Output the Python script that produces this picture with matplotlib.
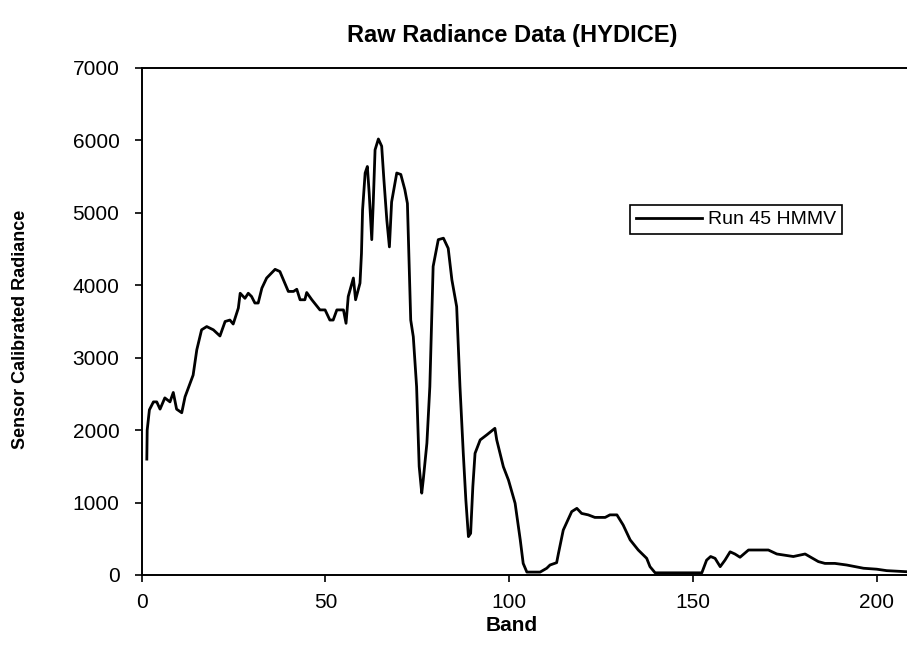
import matplotlib.pyplot as plt

plt.rcParams['font.family'] = ['Liberation Sans', 'DejaVu Sans']

# values
band = [1.4, 1.5, 2.1, 3.2, 4.1, 5.0, 6.3, 7.7, 8.6, 9.5, 10.9, 11.8, 14.0, 15.0,
        16.3, 17.7, 19.5, 21.3, 22.7, 24.0, 24.9, 26.3, 26.8, 28.1, 29.0, 29.9,
        30.8, 31.7, 32.7, 34.0, 36.3, 37.6, 39.9, 41.3, 42.2, 43.1, 44.4, 44.9,
        46.3, 48.5, 49.9, 51.2, 52.1, 53.1, 54.9, 55.6, 56.2, 57.6, 58.2, 59.4,
        59.8, 60.1, 60.8, 61.4, 61.9, 62.6, 63.0, 63.5, 64.4, 65.3, 65.9, 66.7,
        67.4, 68.0, 69.4, 70.5, 71.6, 72.3, 72.8, 73.2, 73.9, 74.8, 75.5, 76.2,
        76.6, 77.6, 78.4, 78.9, 79.3, 80.7, 82.1, 83.4, 84.4, 85.7, 86.6, 87.5,
        88.2, 88.9, 89.5, 90.1, 90.7, 92.1, 93.9, 96.1, 96.6, 98.4, 99.8, 101.6,
        103.0, 103.8, 104.8, 108.4, 110.2, 111.1, 112.9, 113.4, 114.7, 117.0,
        118.4, 119.7, 121.5, 123.3, 126.1, 127.4, 129.3, 131.0, 132.9, 135.1,
        137.4, 138.3, 139.7, 152.4, 153.7, 154.8, 156.0, 157.4, 158.7, 160.1,
        161.4, 162.8, 165.1, 170.5, 172.8, 177.3, 180.5, 184.1, 185.9, 188.6,
        191.8, 196.4, 200.0, 202.7, 208.2]
radiance = [1600, 2000, 2280, 2390, 2390, 2290, 2445, 2390, 2520, 2290, 2240, 2460,
            2760, 3110, 3385, 3430, 3385, 3300, 3500, 3520, 3465, 3685, 3890, 3820,
            3890, 3845, 3755, 3755, 3960, 4100, 4220, 4190, 3915, 3915, 3945, 3800,
            3800, 3900, 3800, 3660, 3660, 3520, 3520, 3660, 3660, 3475, 3845, 4100,
            3800, 4030, 4440, 5040, 5550, 5640, 5270, 4630, 5130, 5870, 6020, 5920,
            5460, 4900, 4530, 5150, 5550, 5530, 5320, 5130, 4250, 3520, 3290, 2600,
            1500, 1130, 1310, 1820, 2600, 3520, 4260, 4630, 4650, 4510, 4075, 3705,
            2600, 1680, 1035, 530, 575, 1220, 1680, 1865, 1935, 2025, 1865, 1495,
            1310, 990, 485, 160, 40, 40, 93, 138, 170, 300, 620, 875, 920, 850, 830,
            795, 795, 830, 830, 690, 485, 345, 230, 115, 30, 30, 205, 255, 230, 115,
            205, 320, 290, 245, 345, 345, 290, 255, 290, 185, 160, 160, 138, 93, 80,
            60, 45]

x_ticks = [0, 50, 100, 150, 200]
y_ticks = [0, 1000, 2000, 3000, 4000, 5000, 6000, 7000]

fig = plt.figure(figsize=(9.07, 6.5), dpi=100)
ax = fig.add_axes([0.1562, 0.1154, 0.851, 0.78])
ax.plot(band, radiance, color='black', linewidth=2, label='Run 45 HMMV')

ax.set_xlim(0, 210)
ax.set_ylim(0, 7000)
ax.set_xticks(x_ticks)
ax.set_yticks(y_ticks)
ax.tick_params(axis='both', direction='out', length=5, width=1.2, labelsize=15)
ax.tick_params(axis='y', pad=11)
ax.tick_params(axis='x', pad=8)
for s in ['left', 'bottom', 'top']:
    ax.spines[s].set_linewidth(1.4)
ax.spines['right'].set_visible(False)

fig.text(0.5645, 0.946, 'Raw Radiance Data (HYDICE)', ha='center', va='center',
         fontsize=17, fontweight='bold')
fig.text(0.5645, 0.038, 'Band', ha='center', va='center', fontsize=15, fontweight='bold')
fig.text(0.023, 0.494, 'Sensor Calibrated Radiance', ha='center', va='center',
         rotation=90, fontsize=13, fontweight='bold')

leg = ax.legend(loc='upper left', bbox_to_anchor=(0.6946, 0.6846),
                bbox_transform=fig.transFigure, borderaxespad=0, fancybox=False,
                edgecolor='black', framealpha=1, fontsize=14, handlelength=3.4,
                handletextpad=0.3, borderpad=0.3)
leg.get_frame().set_linewidth(1.2)

fig.savefig('out.png', dpi=100)
